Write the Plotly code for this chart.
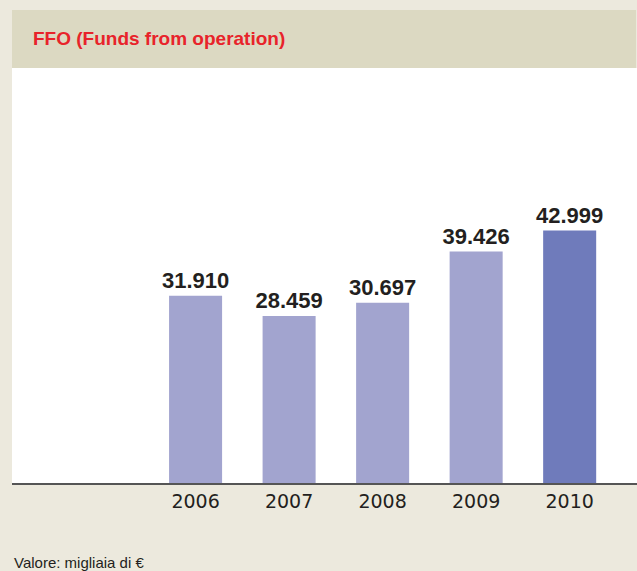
import plotly.graph_objects as go

years = ["2006", "2007", "2008", "2009", "2010"]
ffo = [31910, 28459, 30697, 39426, 42999]
bar_colors = ["#a2a4cf", "#a2a4cf", "#a2a4cf", "#a2a4cf", "#6f7bbb"]

title_text = "FFO (Funds from operation)"
footer_text = "Valore: migliaia di €"

W, H = 637, 571
L, R, T, B = 12, 0, 68, 88
pw, ph = W - L - R, H - T - B

def px_x(x):
    return (x - L) / pw

def px_y(y):
    return (H - B - y) / ph

fig = go.Figure()
fig.add_trace(go.Bar(
    x=years, y=ffo,
    marker=dict(color=bar_colors, line=dict(width=0)),
    width=0.567,
    texttemplate="%{y:,.0f}",
    textposition="outside",
    constraintext="none",
    textfont=dict(family="Liberation Sans, Arial", size=22, color="#231f20", weight="bold"),
    cliponaxis=False,
    hoverinfo="skip",
))

fig.update_layout(
    width=W, height=H,
    margin=dict(l=L, r=R, t=T, b=B, pad=0),
    paper_bgcolor="#ece9dd",
    plot_bgcolor="#ffffff",
    separators=",.",
    showlegend=False,
    xaxis=dict(
        type="category",
        range=[-1.963, 4.72],
        showgrid=False, zeroline=False,
        showline=True, linecolor="#555555", linewidth=1.5,
        ticks="", tickfont=dict(family="DejaVu Sans", size=19, color="#231f20"),
        fixedrange=True,
    ),
    yaxis=dict(
        range=[0, 70700], visible=False, showgrid=False, zeroline=False,
        fixedrange=True,
    ),
    shapes=[dict(
        type="rect", xref="paper", yref="paper",
        x0=px_x(12), x1=px_x(636), y0=px_y(68), y1=px_y(10),
        fillcolor="#dcd9c2", line=dict(width=0), layer="above",
    )],
    annotations=[
        dict(text=title_text, xref="paper", yref="paper",
             x=px_x(31), y=px_y(38), xanchor="left", yanchor="middle",
             showarrow=False,
             font=dict(family="Liberation Sans, Arial", size=19, color="#e8232a", weight="bold")),
        dict(text=footer_text, xref="paper", yref="paper",
             x=px_x(12), y=px_y(562), xanchor="left", yanchor="middle",
             showarrow=False,
             font=dict(family="Liberation Sans, Arial", size=15, color="#231f20")),
    ],
)

fig.write_html(
    "out.html",
    config={"displayModeBar": False},
    post_script="document.body.style.margin='0';document.body.style.overflow='hidden';",
)
